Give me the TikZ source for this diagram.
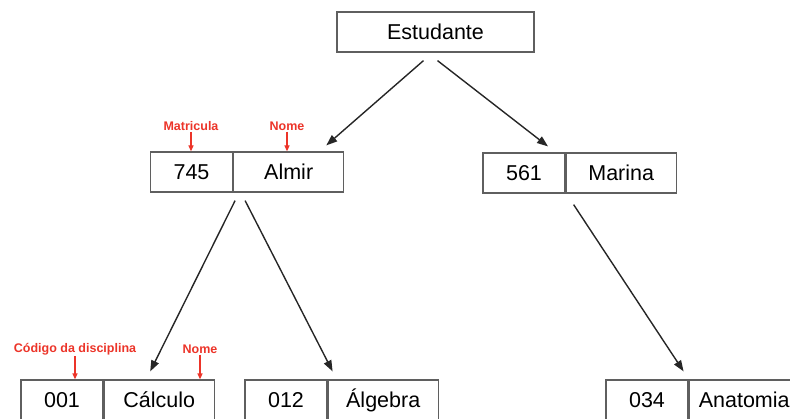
\documentclass[tikz,border=0pt]{standalone}
\usepackage{fontspec}
\setmainfont{Liberation Sans}
\usepackage{xcolor}
\usetikzlibrary{arrows.meta}
\definecolor{lblred}{RGB}{236,52,41}
\definecolor{boxgray}{RGB}{95,95,95}

\begin{document}
\begin{tikzpicture}[x=1pt,y=1pt,
  rec/.style={draw=boxgray,line width=1.2pt,minimum height=40pt,inner sep=0pt,
    text height=15.5pt,text depth=0pt,font=\fontsize{21.5}{25}\selectfont},
  keybox/.style={rec,minimum width=82pt},
  namebox/.style={rec,minimum width=110pt,anchor=west},
  lbl/.style={text=lblred,inner sep=1pt,font=\fontsize{12.5}{14}\selectfont\bfseries},
  redarrow/.style={draw=lblred,line width=1.2pt,-{Triangle[length=6pt,width=5pt]}},
  link/.style={draw=black!85,line width=1.4pt,-{Triangle[length=11pt,width=8pt]}}]
\useasboundingbox (0,0) rectangle (790,418);

%Estudante
\node[rec,minimum width=197pt] (estudante) at (435.5,386) {Estudante};

%745 Almir
\node[keybox] (k745) at (191.5,246) {745};
\node[namebox] (almir) at (k745.east) {Almir};
\node[lbl] (lblmat) at (191,292) {Matricula};
\node[lbl] (lblnome) at (287,292) {Nome};
\draw[redarrow] (lblmat.south) -- (lblmat.south |- k745.north);
\draw[redarrow] (lblnome.south) -- (lblnome.south |- almir.north);

%561 Marina
\node[keybox] (k561) at (524,245) {561};
\node[namebox] (marina) at (k561.east) {Marina};

%001 Calculo
\node[keybox] (k001) at (62,18) {001};
\node[namebox] (calculo) at (k001.east) {Cálculo};
\node[lbl] (lblcod) at (75,69) {Código da disciplina};
\node[lbl] (lblnome2) at (200,69) {Nome};
\draw[redarrow] (lblcod.south) -- (lblcod.south |- k001.north);
\draw[redarrow] (lblnome2.south) -- (lblnome2.south |- calculo.north);

%012 Algebra
\node[keybox] (k012) at (286,18) {012};
\node[namebox] (algebra) at (k012.east) {Álgebra};

%034 Anatomia
\node[keybox] (k034) at (647,18) {034};
\node[namebox] (anatomia) at (k034.east) {Anatomia};

%links
\draw[link] ([shift={(-12,-8)}]estudante.south) -- ([shift={(-18,6)}]almir.north east);
\draw[link] ([shift={(2,-8)}]estudante.south) -- ([shift={(24,6)}]k561.north);
\draw[link] ([shift={(2,-8)}]k745.south east) -- ([shift={(-9,8)}]calculo.north);
\draw[link] ([shift={(12,-8)}]almir.south west) -- ([shift={(5,8)}]k012.north east);
\draw[link] ([shift={(8,-11)}]marina.south west) -- ([shift={(-5,8)}]k034.north east);
\end{tikzpicture}
\end{document}
